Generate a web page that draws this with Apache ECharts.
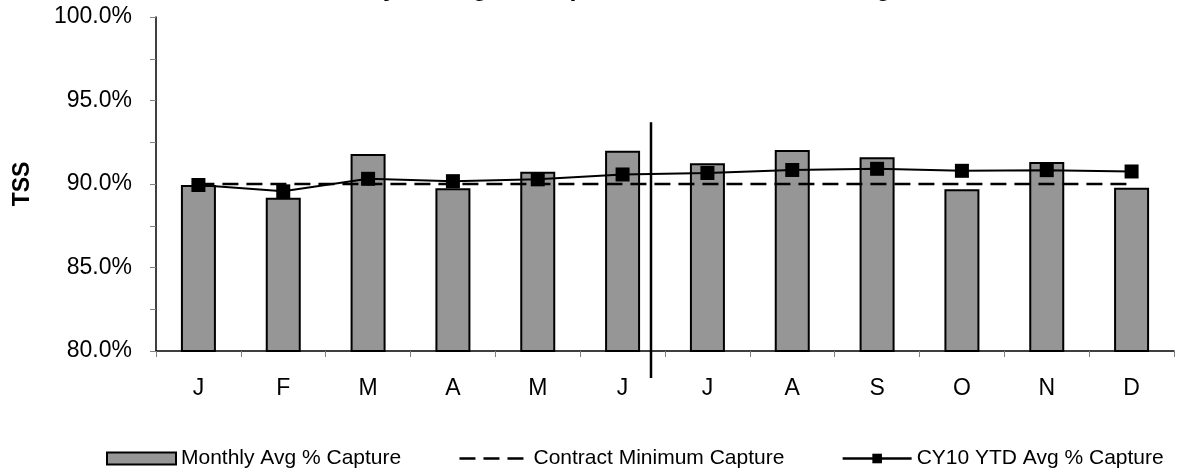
<!DOCTYPE html>
<html>
<head>
<meta charset="utf-8">
<script src="https://cdn.jsdelivr.net/npm/echarts@6/dist/echarts.min.js"></script>
<style>
  html, body { margin: 0; padding: 0; background: #fff; }
  #chart { width: 1178px; height: 472px; }
</style>
</head>
<body>
<div id="chart"></div>
<script>
// Month initials for calendar year 2010
const months = ['J', 'F', 'M', 'A', 'M', 'J', 'J', 'A', 'S', 'O', 'N', 'D'];
// Monthly average % capture (TSS)
const monthlyCapture = [89.94, 89.18, 91.80, 89.74, 90.74, 91.99, 91.24, 92.04, 91.60, 89.68, 91.32, 89.78];
// Contract minimum capture
const contractMinimum = [90, 90, 90, 90, 90, 90, 90, 90, 90, 90, 90, 90];
// Year-to-date running average % capture
const ytdCapture = [89.94, 89.56, 90.31, 90.17, 90.28, 90.57, 90.66, 90.84, 90.91, 90.79, 90.83, 90.75];
// Y-axis range and tick step
const yMin = 80, yMax = 100, yStep = 2.5, yLabelStep = 5;
// Mid-year divider: top value and how far it runs below the category axis
const dividerTop = 93.7;
const dividerDrop = 27;

const FONT = '"Liberation Sans", Arial, sans-serif';
const DASH = [16, 8];

const chart = echarts.init(document.getElementById('chart'), null, { renderer: 'canvas' });

const option = {
  animation: false,
  backgroundColor: '#ffffff',
  title: {
    text: 'Monthly Average % Capture vs. CY10 YTD Average',
    left: 296,
    top: -28,
    textStyle: { fontFamily: FONT, fontSize: 25, fontWeight: 'bold', color: '#000' }
  },
  grid: { left: 156, right: 4, top: 17, bottom: 121, containLabel: false },
  legend: {
    left: 101,
    top: 443,
    itemWidth: 69,
    itemHeight: 12,
    itemGap: 57,
    textStyle: { fontFamily: FONT, fontSize: 21, color: '#000' },
    data: [
      { name: 'Monthly Avg % Capture', icon: 'rect' },
      { name: 'Contract Minimum Capture', itemStyle: { opacity: 0 }, lineStyle: { type: DASH, width: 2.5 } },
      { name: 'CY10 YTD Avg % Capture', lineStyle: { width: 2.5 } }
    ]
  },
  xAxis: {
    type: 'category',
    data: months,
    axisLine: { lineStyle: { color: '#000', width: 1.5 } },
    axisTick: { show: true, length: 6, lineStyle: { color: '#808080', width: 1 } },
    axisLabel: { fontFamily: FONT, fontSize: 23, color: '#000', margin: 26 },
    splitLine: { show: false }
  },
  yAxis: {
    type: 'value',
    min: yMin,
    max: yMax,
    interval: yStep,
    name: 'TSS',
    nameLocation: 'middle',
    nameGap: 122,
    nameRotate: 90,
    nameTextStyle: { fontFamily: FONT, fontSize: 23, fontWeight: 'bold', color: '#000' },
    axisLine: { show: true, lineStyle: { color: '#000', width: 1.5 } },
    axisTick: { show: true, length: 6, lineStyle: { color: '#808080', width: 1 } },
    axisLabel: {
      fontFamily: FONT, fontSize: 23, color: '#000', margin: 24,
      formatter: function (v) {
        return Math.abs(v / yLabelStep - Math.round(v / yLabelStep)) < 1e-6 ? v.toFixed(1) + '%' : '';
      }
    },
    splitLine: { show: false }
  },
  series: [
    {
      name: 'Monthly Avg % Capture',
      type: 'bar',
      data: monthlyCapture,
      barWidth: 35,
      itemStyle: { color: '#969696', borderColor: '#000', borderWidth: 2 },
      z: 2
    },
    {
      name: 'Contract Minimum Capture',
      type: 'line',
      data: contractMinimum,
      symbol: 'none',
      lineStyle: { color: '#000', width: 2.5, type: DASH },
      itemStyle: { color: '#000' },
      z: 3
    },
    {
      name: 'CY10 YTD Avg % Capture',
      type: 'line',
      data: ytdCapture,
      symbol: 'rect',
      symbolSize: 14,
      lineStyle: { color: '#000', width: 2 },
      itemStyle: { color: '#000' },
      z: 4
    }
  ]
};

chart.setOption(option);

// Mid-year divider between June and July, placed through the axis scales
function drawDivider() {
  const c5 = chart.convertToPixel({ xAxisIndex: 0 }, 5);
  const c6 = chart.convertToPixel({ xAxisIndex: 0 }, 6);
  const x = c5 + (c6 - c5) * 0.335;
  const yTop = chart.convertToPixel({ yAxisIndex: 0 }, dividerTop);
  const yBase = chart.convertToPixel({ yAxisIndex: 0 }, yMin);
  chart.setOption({
    graphic: [{
      type: 'line',
      id: 'divider',
      shape: { x1: x, y1: yTop, x2: x, y2: yBase + dividerDrop },
      style: { stroke: '#000', lineWidth: 2.5 },
      z: 10
    }]
  });
}
drawDivider();
</script>
</body>
</html>
